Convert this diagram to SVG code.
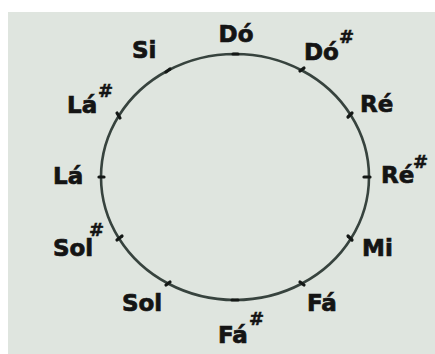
<svg xmlns="http://www.w3.org/2000/svg" width="435" height="354" viewBox="0 0 435 354">
<style>
.lbl{font-family:"DejaVu Sans","Liberation Sans",sans-serif;font-weight:bold;font-size:23px;fill:#141414;stroke:#141414;stroke-width:0.7}
.sh{font-family:"DejaVu Sans","Liberation Sans",sans-serif;font-weight:bold;font-size:18px;fill:#141414;stroke:#141414;stroke-width:0.5}
.arc{fill:none;stroke:#37433e;stroke-width:2.6}
.tick{stroke:#141816;stroke-width:3.2;stroke-linecap:round}
</style>
<rect width="435" height="354" fill="#ffffff"/>
<rect x="8" y="12" width="427" height="342" fill="#dfe5df"/>
<g id="connectors">
<path class="arc" d="M235,54 A134,123 0 0 1 302,70.5 A134,123 0 0 1 351,115.5 A134,123 0 0 1 369,177 A134,123 0 0 1 351,238.5 A134,123 0 0 1 302,283.5 A134,123 0 0 1 235,300 A134,123 0 0 1 168,283.5 A134,123 0 0 1 119,238.5 A134,123 0 0 1 101,177 A134,123 0 0 1 119,115.5 A134,123 0 0 1 168,70.5 A134,123 0 0 1 235,54 Z"/>
</g>
<g id="do">
<line class="tick" x1="233" y1="54" x2="238" y2="54"/>
<text class="lbl" x="236" y="42" text-anchor="middle">Dó</text>
</g>
<g id="do-sharp">
<line class="tick" x1="300" y1="71" x2="304" y2="68"/>
<text class="lbl" x="304" y="60">Dó</text><text class="sh" x="339" y="43">#</text>
</g>
<g id="re">
<line class="tick" x1="348" y1="117" x2="352" y2="113"/>
<text class="lbl" x="360" y="112">Ré</text>
</g>
<g id="re-sharp">
<line class="tick" x1="364" y1="177" x2="370" y2="177"/>
<text class="lbl" x="381" y="183">Ré</text><text class="sh" x="413" y="168">#</text>
</g>
<g id="mi">
<line class="tick" x1="348" y1="236" x2="352" y2="240"/>
<text class="lbl" x="362" y="256">Mi</text>
</g>
<g id="fa">
<line class="tick" x1="300" y1="282" x2="304" y2="285"/>
<text class="lbl" x="307" y="311">Fá</text>
</g>
<g id="fa-sharp">
<line class="tick" x1="232" y1="300" x2="238" y2="300"/>
<text class="lbl" x="218" y="343">Fá</text><text class="sh" x="249" y="325">#</text>
</g>
<g id="sol">
<line class="tick" x1="166" y1="285" x2="170" y2="282"/>
<text class="lbl" x="122" y="311">Sol</text>
</g>
<g id="sol-sharp">
<line class="tick" x1="117" y1="240" x2="122" y2="236"/>
<text class="lbl" x="53" y="256">Sol</text><text class="sh" x="89" y="236">#</text>
</g>
<g id="la">
<line class="tick" x1="99" y1="177" x2="104" y2="177"/>
<text class="lbl" x="53" y="184">Lá</text>
</g>
<g id="la-sharp">
<line class="tick" x1="117" y1="113" x2="120" y2="118"/>
<text class="lbl" x="67" y="113">Lá</text><text class="sh" x="98" y="97">#</text>
</g>
<g id="si">
<line class="tick" x1="166" y1="72" x2="170" y2="69"/>
<text class="lbl" x="132" y="58">Si</text>
</g>
</svg>
